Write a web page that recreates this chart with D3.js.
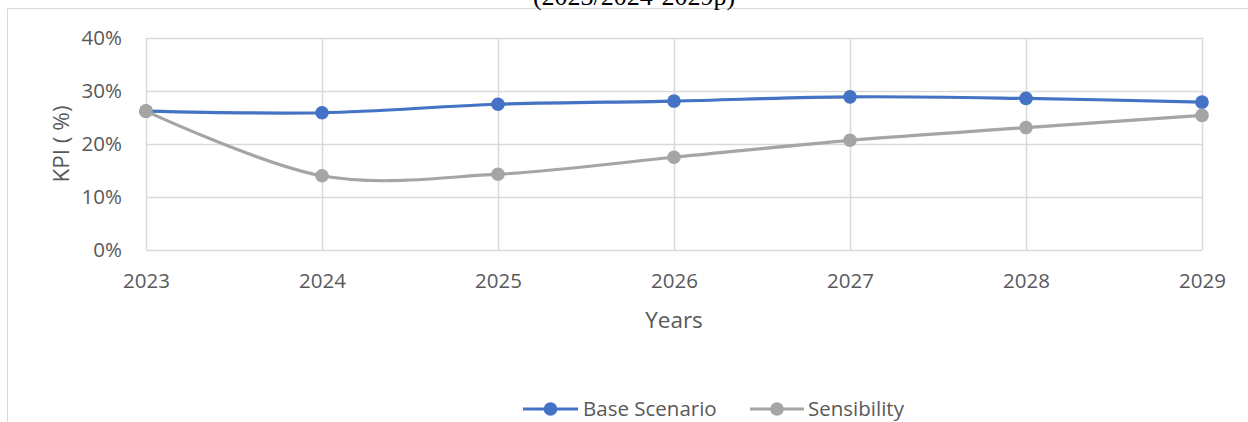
<!DOCTYPE html>
<html>
<head>
<meta charset="utf-8">
<script src="https://cdn.jsdelivr.net/npm/d3@7"></script>
<style>
  html, body { margin: 0; padding: 0; background: #fff; }
  svg { display: block; }
  text { font-family: "Open Sans", "Liberation Sans", sans-serif; fill: #595959; }
</style>
</head>
<body>
<svg id="chart" width="1248" height="422"></svg>
<script>
// ---- data ----
const years = ["2023", "2024", "2025", "2026", "2027", "2028", "2029"];
const baseScenario = [0.262, 0.259, 0.275, 0.281, 0.289, 0.286, 0.279];
const sensibility  = [0.262, 0.140, 0.143, 0.175, 0.207, 0.231, 0.254];
const yTicks = [0, 0.1, 0.2, 0.3, 0.4];
const seriesNames = ["Base Scenario", "Sensibility"];
const seriesColors = ["#4472C4", "#A5A5A5"];
const titleText = "(2023/2024-2029p)";
const xTitle = "Years";
const yTitle = "KPI ( %)";

// ---- layout ----
const W = 1248, H = 422;
const plot = { left: 146, right: 1202, top: 38, bottom: 250 };
const svg = d3.select("#chart");

const x = d3.scalePoint().domain(years).range([plot.left, plot.right]);
const y = d3.scaleLinear().domain([0, 0.4]).range([plot.bottom, plot.top]);

// chart frame (top and left border of the chart area)
svg.append("line").attr("x1", 7.5).attr("x2", W).attr("y1", 8.5).attr("y2", 8.5)
  .attr("stroke", "#D9D9D9").attr("stroke-width", 1);
svg.append("line").attr("x1", 7.5).attr("x2", 7.5).attr("y1", 8.5).attr("y2", H)
  .attr("stroke", "#D9D9D9").attr("stroke-width", 1);

// clipped title
svg.append("text").attr("x", 634).attr("y", 4.5).attr("text-anchor", "middle")
  .style("font-family", "'Liberation Serif', 'Times New Roman', serif")
  .style("font-size", "26px").style("fill", "#000")
  .text(titleText);

// gridlines
const grid = svg.append("g");
grid.selectAll("line.h").data(yTicks).join("line")
  .attr("x1", plot.left).attr("x2", plot.right)
  .attr("y1", d => Math.round(y(d)) + 0.5).attr("y2", d => Math.round(y(d)) + 0.5)
  .attr("stroke", "#D9D9D9").attr("stroke-width", 1.5);
grid.selectAll("line.v").data(years).join("line")
  .attr("x1", d => Math.round(x(d)) + 0.5).attr("x2", d => Math.round(x(d)) + 0.5)
  .attr("y1", plot.top).attr("y2", plot.bottom)
  .attr("stroke", "#D9D9D9").attr("stroke-width", 1.5);

// y axis
const yAxis = svg.append("g").attr("transform", `translate(${plot.left},0)`)
  .call(d3.axisLeft(y).tickValues(yTicks).tickFormat(d3.format(".0%")).tickSize(0).tickPadding(24));
yAxis.select(".domain").remove();
yAxis.selectAll("text").style("font-size", "20.5px").style("fill", "#595959")
  .attr("font-family", null);

// x axis
const xAxis = svg.append("g").attr("transform", `translate(0,${plot.bottom})`)
  .call(d3.axisBottom(x).tickSize(0));
xAxis.select(".domain").remove();
xAxis.selectAll("text").attr("y", 38).attr("dy", null)
  .style("font-size", "20.5px").style("fill", "#595959").attr("font-family", null);

// axis titles
svg.append("text").attr("x", (plot.left + plot.right) / 2).attr("y", 328)
  .attr("text-anchor", "middle").style("font-size", "22.5px").text(xTitle);
svg.append("text").attr("transform", "translate(69,144) rotate(-90)")
  .attr("text-anchor", "middle").style("font-size", "22.5px").text(yTitle);

// series
const series = [baseScenario, sensibility];
const line = d3.line().x((d, i) => x(years[i])).y(d => y(d)).curve(d3.curveCardinal.tension(0));

series.forEach((vals, si) => {
  const g = svg.append("g");
  g.append("path").datum(vals).attr("d", line)
    .attr("fill", "none").attr("stroke", seriesColors[si]).attr("stroke-width", 3.2)
    .attr("stroke-linejoin", "round").attr("stroke-linecap", "round");
  g.selectAll("circle").data(vals).join("circle")
    .attr("cx", (d, i) => x(years[i])).attr("cy", d => y(d)).attr("r", 6.8)
    .attr("fill", seriesColors[si]);
});

// legend
const legendItems = [
  { lineX1: 523, lineX2: 578, textX: 583 },
  { lineX1: 750, lineX2: 804, textX: 808 }
];
const legendY = 409;
const lg = svg.append("g");
legendItems.forEach((it, i) => {
  lg.append("line").attr("x1", it.lineX1).attr("x2", it.lineX2)
    .attr("y1", legendY).attr("y2", legendY)
    .attr("stroke", seriesColors[i]).attr("stroke-width", 3.2);
  lg.append("circle").attr("cx", (it.lineX1 + it.lineX2) / 2).attr("cy", legendY)
    .attr("r", 6.8).attr("fill", seriesColors[i]);
  lg.append("text").attr("x", it.textX).attr("y", legendY + 7)
    .style("font-size", "20.5px").text(seriesNames[i]);
});
</script>
</body>
</html>
